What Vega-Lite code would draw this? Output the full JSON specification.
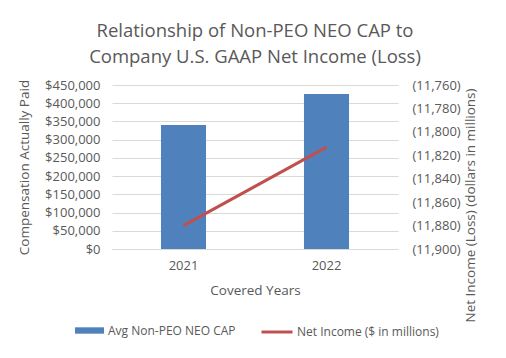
{
  "$schema": "https://vega.github.io/schema/vega-lite/v6.json",
  "autosize": {"type": "none"},
  "width": 286,
  "height": 164,
  "padding": {"left": 112, "top": 85, "right": 108, "bottom": 109},
  "background": "white",
  "config": {
    "font": "Open Sans",
    "view": {"stroke": null},
    "axis": {"labelColor": "#595959", "titleColor": "#595959", "labelFont": "Open Sans", "titleFont": "Open Sans", "titleFontWeight": "normal"},
    "legend": {"labelColor": "#595959", "labelFont": "Open Sans", "labelFontSize": 12, "labelOffset": 3}
  },
  "title": {
    "text": ["Relationship of Non-PEO NEO CAP to", "Company U.S. GAAP Net Income (Loss)"],
    "fontSize": 18.5,
    "fontWeight": "normal",
    "color": "#595959",
    "font": "Open Sans",
    "lineHeight": 26,
    "offset": 13,
    "anchor": "middle"
  },
  "data": {
    "values": [
      {"year": "2021", "cap": 340000, "net_income": -11880},
      {"year": "2022", "cap": 425000, "net_income": -11813}
    ]
  },
  "encoding": {
    "x": {
      "field": "year",
      "type": "nominal",
      "title": "Covered Years",
      "scale": {"paddingInner": 0.685, "paddingOuter": 0.3425},
      "axis": {"labelAngle": 0, "labelFontSize": 13, "titleFontSize": 13.5, "ticks": false, "domain": true, "domainColor": "#d9d9d9", "labelPadding": 10, "titlePadding": 11}
    }
  },
  "layer": [
    {
      "mark": {"type": "bar"},
      "encoding": {
        "y": {
          "field": "cap",
          "type": "quantitative",
          "title": "Compensation Actually Paid",
          "scale": {"domain": [0, 450000], "nice": false},
          "axis": {"values": [0, 50000, 100000, 150000, 200000, 250000, 300000, 350000, 400000, 450000], "format": "$,.0f", "labelFontSize": 13, "titleFontSize": 13.5, "ticks": false, "domain": false, "gridColor": "#d9d9d9", "labelPadding": 12, "titlePadding": 13}
        },
        "color": {
          "datum": "Avg Non-PEO NEO CAP",
          "scale": {"range": ["#4f81bd"]},
          "legend": {"title": null, "orient": "none", "legendX": -38, "legendY": 230, "symbolType": "M-1,-0.22H1V0.22H-1Z", "symbolSize": 841}
        }
      }
    },
    {
      "mark": {"type": "line", "strokeWidth": 3},
      "encoding": {
        "y": {
          "field": "net_income",
          "type": "quantitative",
          "title": "Net Income (Loss) (dollars in millions)",
          "scale": {"domain": [-11900, -11760], "nice": false},
          "axis": {"orient": "right", "values": [-11900, -11880, -11860, -11840, -11820, -11800, -11780, -11760], "labelExpr": "'(' + format(abs(datum.value), ',') + ')'", "labelFontSize": 13, "titleFontSize": 13.5, "ticks": false, "domain": false, "grid": false, "labelPadding": 14, "titleAngle": 270, "titleX": 72, "titleY": 120, "titleAlign": "center", "titleBaseline": "middle"}
        },
        "stroke": {
          "datum": "Net Income ($ in millions)",
          "scale": {"range": ["#c0504d"]},
          "legend": {"title": null, "orient": "none", "legendX": 148, "legendY": 230, "symbolType": "stroke", "symbolStrokeWidth": 3, "symbolSize": 960}
        }
      }
    }
  ],
  "resolve": {"scale": {"y": "independent"}}
}
